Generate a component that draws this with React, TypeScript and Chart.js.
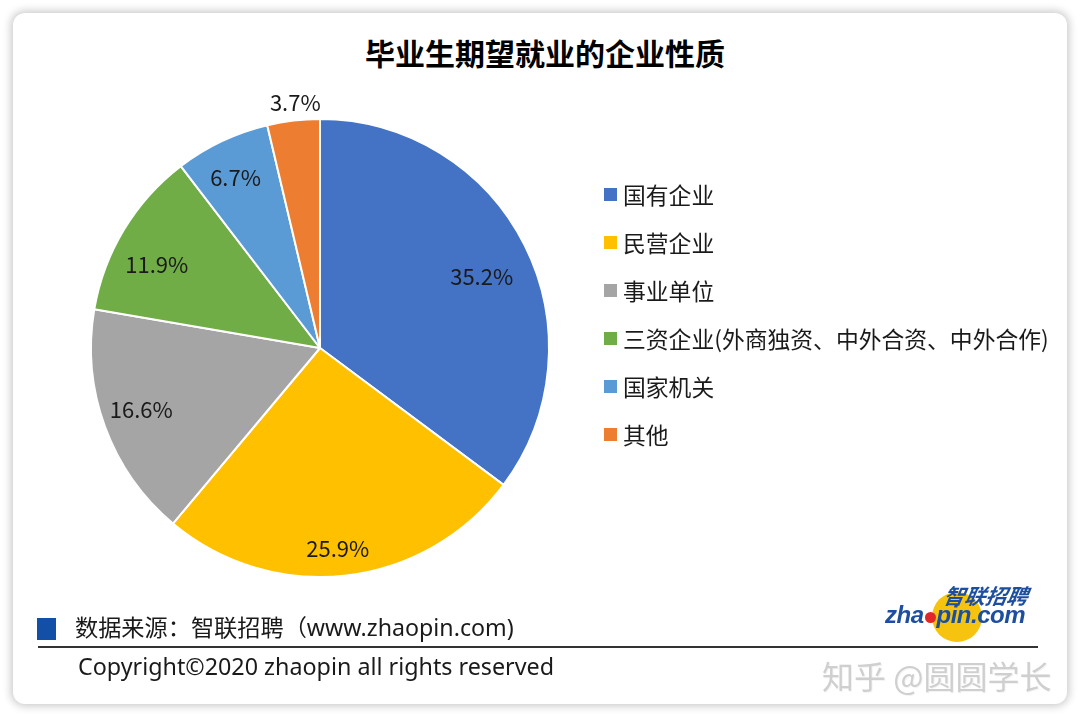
import React, { useEffect, useRef } from "react";
import { Chart, registerables } from "chart.js";

Chart.register(...registerables);

const title = "毕业生期望就业的企业性质";
const categories = [
  "国有企业",
  "民营企业",
  "事业单位",
  "三资企业(外商独资、中外合资、中外合作)",
  "国家机关",
  "其他",
];
const shares = [35.2, 25.9, 16.6, 11.9, 6.7, 3.7];
const colors = ["#4472C4", "#FFC000", "#A5A5A5", "#70AD47", "#5B9BD5", "#ED7D31"];
// label placement (style): radial fraction and angular shift in degrees
const labelRadius = [0.772, 0.88, 0.825, 0.8, 0.83, 1.075];
const labelAngleShift = [2.8, 1.6, 1.2, -4.1, -1.0, 0.9];
const sourceText = "数据来源：智联招聘（www.zhaopin.com)";
const copyrightText = "Copyright©2020 zhaopin all rights reserved";
const watermark = "知乎 @圆圆学长";

const CJK = '"Noto Sans CJK SC", "Noto Sans", sans-serif';
const LATIN = '"Noto Sans", "Noto Sans CJK SC", sans-serif';

const sliceLabels = {
  id: "sliceLabels",
  afterDatasetsDraw(chart: any) {
    const meta = chart.getDatasetMeta(0);
    const ctx = chart.ctx;
    ctx.save();
    ctx.font = '22px "Noto Sans CJK SC"';
    ctx.fillStyle = "#1a1a1a";
    ctx.textAlign = "center";
    ctx.textBaseline = "middle";
    meta.data.forEach((arc: any, i: number) => {
      const p = arc.getProps(["x", "y", "startAngle", "endAngle", "outerRadius"], true);
      const mid = (p.startAngle + p.endAngle) / 2 + (labelAngleShift[i] * Math.PI) / 180;
      const r = p.outerRadius * labelRadius[i];
      ctx.fillText(shares[i].toFixed(1) + "%", p.x + Math.cos(mid) * r, p.y + Math.sin(mid) * r);
    });
    ctx.restore();
  },
};

function PieChart() {
  const ref = useRef<HTMLCanvasElement | null>(null);
  useEffect(() => {
    if (!ref.current) return;
    const chart = new Chart(ref.current, {
      type: "pie",
      data: {
        labels: categories,
        datasets: [
          {
            data: shares,
            backgroundColor: colors,
            borderColor: "#ffffff",
            borderWidth: 2,
            hoverOffset: 0,
          },
        ],
      },
      options: {
        responsive: false,
        animation: false,
        events: [],
        radius: 229,
        rotation: 0,
        layout: { padding: { left: 92, right: 532, top: 120, bottom: 142 } },
        plugins: {
          legend: { display: false },
          tooltip: { enabled: false },
          title: { display: false },
        },
      } as any,
      plugins: [sliceLabels],
    });
    return () => chart.destroy();
  }, []);
  return (
    <canvas
      ref={ref}
      width={1080}
      height={718}
      style={{ position: "absolute", left: 0, top: 0, width: 1080, height: 718 }}
    />
  );
}

export default function App() {
  return (
    <div
      style={{
        position: "absolute",
        left: 0,
        top: 0,
        width: 1080,
        height: 718,
        background: "#ffffff",
        overflow: "hidden",
      }}
    >
      <div
        style={{
          position: "absolute",
          left: 13,
          top: 13,
          width: 1054,
          height: 691,
          borderRadius: 12,
          background: "#ffffff",
          boxShadow: "0 0 9px 2px rgba(0,0,0,0.22)",
        }}
      />
      <div
        style={{
          position: "absolute",
          left: 5,
          top: 33,
          width: 1080,
          textAlign: "center",
          fontFamily: CJK,
          fontWeight: 700,
          fontSize: 30,
          lineHeight: "38px",
          color: "#000",
        }}
      >
        {title}
      </div>
      <PieChart />
      <div style={{ position: "absolute", left: 604, top: 170 }}>
        {categories.map((c, i) => (
          <div
            key={c}
            style={{
              display: "flex",
              alignItems: "center",
              height: 48,
              fontFamily: CJK,
              fontSize: 22.8,
              color: "#1a1a1a",
              whiteSpace: "nowrap",
            }}
          >
            <span
              style={{ width: 13, height: 13, background: colors[i], marginRight: 6, flex: "none" }}
            />
            <span>{c}</span>
          </div>
        ))}
      </div>
      {/* footer source */}
      <div
        style={{
          position: "absolute",
          left: 37,
          top: 618,
          width: 19,
          height: 22,
          background: "#1150a6",
        }}
      />
      <div
        style={{
          position: "absolute",
          left: 75,
          top: 611,
          fontFamily: LATIN,
          fontSize: 23.2,
          lineHeight: "32px",
          color: "#1a1a1a",
          whiteSpace: "nowrap",
        }}
      >
        {sourceText}
      </div>
      <div
        style={{
          position: "absolute",
          left: 38,
          top: 646,
          width: 1000,
          height: 2,
          background: "#333",
        }}
      />
      <div
        style={{
          position: "absolute",
          left: 78,
          top: 650,
          fontFamily: LATIN,
          fontSize: 23.3,
          lineHeight: "32px",
          color: "#1a1a1a",
          whiteSpace: "nowrap",
        }}
      >
        {copyrightText}
      </div>
      {/* logo */}
      <div
        style={{
          position: "absolute",
          left: 932,
          top: 592,
          width: 50,
          height: 50,
          borderRadius: "50%",
          background: "#F6C40E",
        }}
      />
      <div
        style={{
          position: "absolute",
          left: 944,
          top: 582,
          fontFamily: CJK,
          fontWeight: 700,
          fontStyle: "italic",
          fontSize: 21,
          lineHeight: "26px",
          color: "#1D4FA0",
          transform: "skewX(-10deg)",
          whiteSpace: "nowrap",
        }}
      >
        智联招聘
      </div>
      <div
        style={{
          position: "absolute",
          left: 885,
          top: 601,
          fontFamily: '"Liberation Sans", Arial, sans-serif',
          fontWeight: 700,
          fontStyle: "italic",
          fontSize: 24,
          lineHeight: "28px",
          color: "#1D4FA0",
          whiteSpace: "nowrap",
          display: "flex",
          alignItems: "center",
          letterSpacing: -0.5,
        }}
      >
        <span>zha</span>
        <span
          style={{
            display: "inline-block",
            width: 11,
            height: 11,
            borderRadius: "50%",
            background: "#E0282A",
            margin: "4px 1px 0 1px",
          }}
        />
        <span>pin.com</span>
      </div>
      <div
        style={{
          position: "absolute",
          left: 822,
          top: 654,
          fontFamily: CJK,
          fontSize: 32,
          lineHeight: "42px",
          color: "#cfcfcf",
          textShadow: "1px 1px 0 #f4f4f4",
          whiteSpace: "nowrap",
        }}
      >
        {watermark}
      </div>
    </div>
  );
}
